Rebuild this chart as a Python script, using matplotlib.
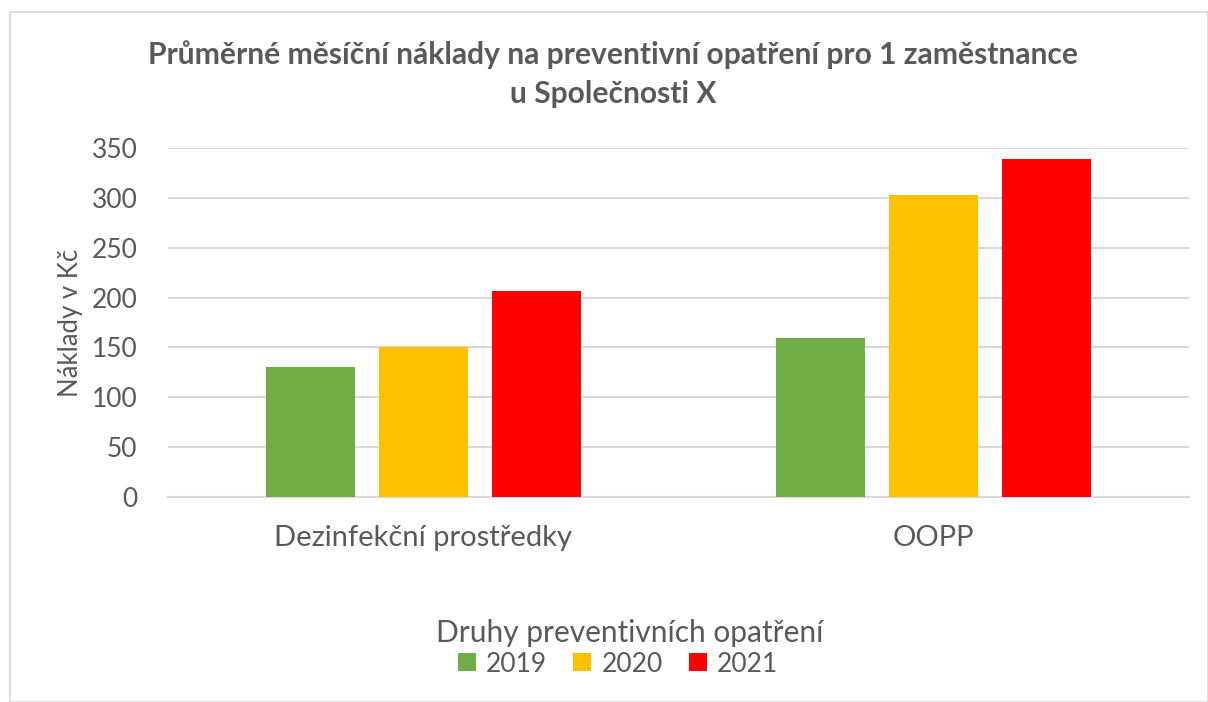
import matplotlib
matplotlib.use("Agg")
import matplotlib.pyplot as plt
import numpy as np
from matplotlib.patches import Rectangle, Patch

categories = ["Dezinfekční prostředky", "OOPP"]
series_names = ["2019", "2020", "2021"]
values_2019 = [130, 159]
values_2020 = [150, 303]
values_2021 = [207, 339]
colors = ["#70AD47", "#FFC000", "#FF0000"]
yticks = [0, 50, 100, 150, 200, 250, 300, 350]

plt.rcParams['font.family'] = ['Lato', 'DejaVu Sans']
txt = "#595959"
grid = "#D9D9D9"

W, H = 1208, 702
fig = plt.figure(figsize=(W/100, H/100), dpi=100)
fig.patches.append(Rectangle((10/W, 0), 1 - 10/W, 1 - 12/H, transform=fig.transFigure,
                             fill=False, edgecolor=grid, linewidth=1.2))

ax = fig.add_axes([168/W, 1 - 497/H, (1189 - 168)/W, (497 - 148)/H])
x = np.arange(len(categories))
bw = 89/510.5
step = 113/510.5
for i, (vals, c, n) in enumerate(zip([values_2019, values_2020, values_2021], colors, series_names)):
    ax.bar(x + (i - 1)*step, vals, width=bw, color=c, label=n, zorder=3)

ax.set_xlim(-0.5, 1.5)
ax.set_ylim(0, 350)
ax.set_yticks(yticks)
ax.set_yticklabels([str(t) for t in yticks], fontsize=19, color=txt)
ax.set_xticks(x)
ax.set_xticklabels(categories, fontsize=21, color=txt)
ax.tick_params(axis='both', length=0)
ax.tick_params(axis='y', pad=22)
ax.tick_params(axis='x', pad=20)
ax.grid(axis='y', color=grid, linewidth=1.5, zorder=0)
for s in ['top', 'right', 'left']:
    ax.spines[s].set_visible(False)
ax.spines['bottom'].set_color(grid)
ax.spines['bottom'].set_linewidth(1.5)
ax.set_ylabel("Náklady v Kč", fontsize=18.5, color=txt, labelpad=6)

fig.text(613/W, 1 - 55/H, "Průměrné měsíční náklady na preventivní opatření pro 1 zaměstnance",
         ha='center', va='center', fontsize=21.6, fontweight='bold', color=txt)
fig.text(613/W, 1 - 94/H, "u Společnosti X",
         ha='center', va='center', fontsize=21.6, fontweight='bold', color=txt)

fig.text(630/W, 1 - 633/H, "Druhy preventivních opatření", ha='center', va='center', fontsize=21.5, color=txt)
handles = [Patch(facecolor=c, label=n) for c, n in zip(colors, series_names)]
fig.legend(handles=handles, loc='center', bbox_to_anchor=(618/W, 1 - 664/H), ncol=3, frameon=False,
           fontsize=19, labelcolor=txt, handlelength=0.68, handleheight=0.68, handletextpad=0.38,
           columnspacing=1.0, borderpad=0)

fig.savefig("out.png", dpi=100)
